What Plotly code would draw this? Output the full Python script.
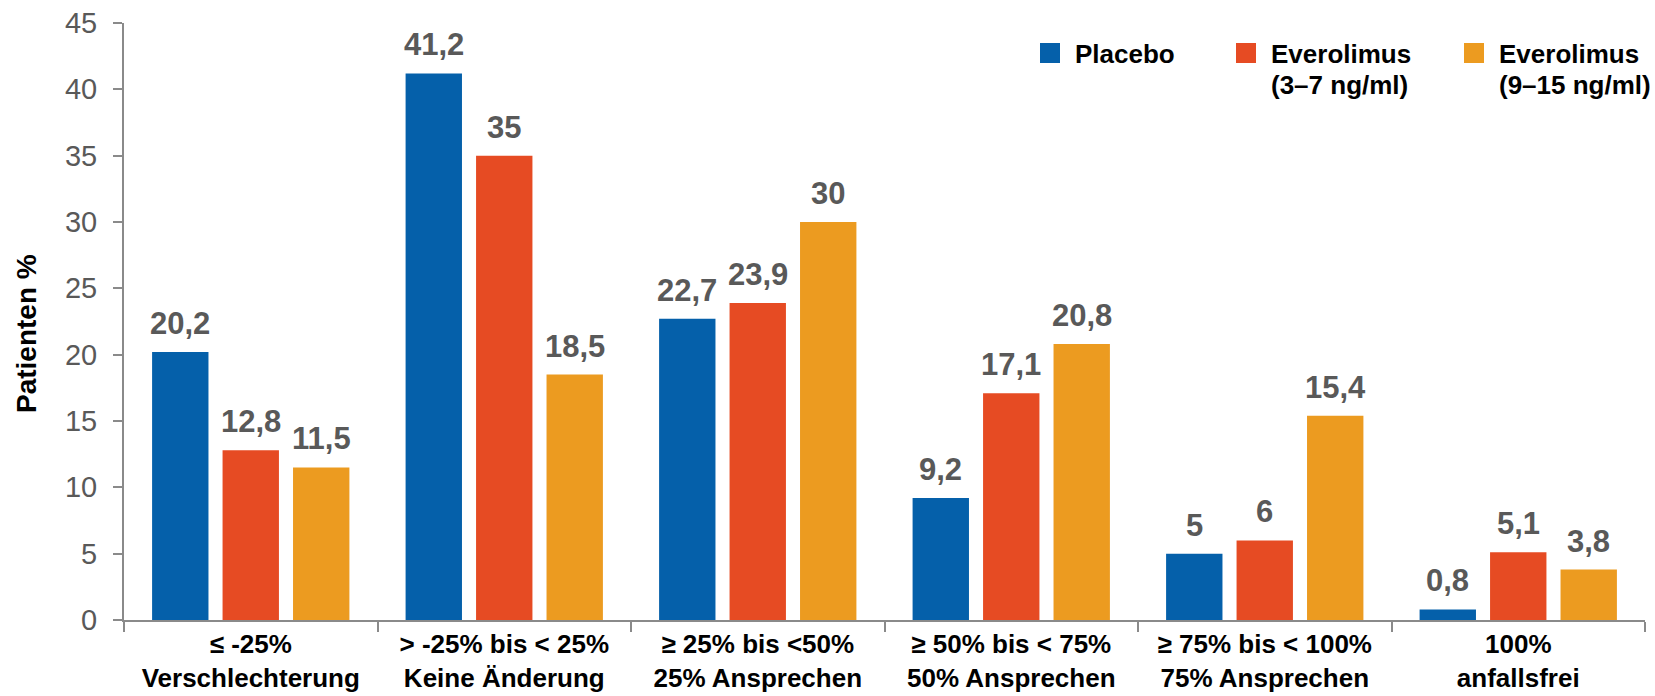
import plotly.graph_objects as go

# Response categories (two-line axis labels)
categories = [
    "≤ -25%<br>Verschlechterung",
    "> -25% bis &lt; 25%<br>Keine Änderung",
    "≥ 25% bis &lt;50%<br>25% Ansprechen",
    "≥ 50% bis &lt; 75%<br>50% Ansprechen",
    "≥ 75% bis &lt; 100%<br>75% Ansprechen",
    "100%<br>anfallsfrei",
]

# Share of patients (%) per treatment arm
placebo = [20.2, 41.2, 22.7, 9.2, 5, 0.8]
everolimus_low = [12.8, 35, 23.9, 17.1, 6, 5.1]
everolimus_high = [11.5, 18.5, 30, 20.8, 15.4, 3.8]

series_names = ["Placebo", "Everolimus<br>(3–7 ng/ml)", "Everolimus<br>(9–15 ng/ml)"]
series_values = [placebo, everolimus_low, everolimus_high]
series_colors = ["#0560AA", "#E64B23", "#EC9B20"]

y_ticks = [0, 5, 10, 15, 20, 25, 30, 35, 40, 45]
y_title = "Patienten %"

FONT = "Liberation Sans, Arial, sans-serif"
W, H = 1655, 696
M_L, M_R, M_T, M_B = 124, 10, 23, 76
PLOT_W = W - M_L - M_R
PLOT_H = H - M_T - M_B
BARGAP = 0.166
N_SERIES = len(series_values)


def fmt(v):
    return f"{v:g}".replace(".", ",")


def px_x(px):
    return (px - M_L) / PLOT_W


def px_y(py):
    return (H - M_B - py) / PLOT_H


fig = go.Figure()
for name, vals, col in zip(series_names, series_values, series_colors):
    fig.add_trace(go.Bar(
        x=categories, y=vals, name=name.replace("<br>", " "),
        marker=dict(color=col, line=dict(width=0)),
        showlegend=False,
    ))

# Value labels above each bar, offset to each bar's slot within the group
slot = (1 - BARGAP) / N_SERIES
annotations = []
for k, vals in enumerate(series_values):
    off = (k - (N_SERIES - 1) / 2) * slot
    for i, v in enumerate(vals):
        annotations.append(dict(
            x=i + off, y=v, xref="x", yref="y",
            text=fmt(v), showarrow=False,
            yanchor="bottom", xanchor="center", yshift=9,
            font=dict(family=FONT, size=31, color="#595959", weight="bold"),
        ))

# Legend: coloured squares with bold labels across the top right
legend_px = [1040, 1236, 1464]
SQ = 20
LINE_STEP = 31
shapes = []
for px, name, col in zip(legend_px, series_names, series_colors):
    shapes.append(dict(type="rect", xref="paper", yref="paper",
                       x0=px_x(px), x1=px_x(px + SQ),
                       y0=px_y(43 + SQ), y1=px_y(43),
                       fillcolor=col, line=dict(width=0)))
    for j, line in enumerate(name.split("<br>")):
        annotations.append(dict(
            x=px_x(px + SQ + 13), y=px_y(37 + j * LINE_STEP),
            xref="paper", yref="paper", text=line, showarrow=False,
            xanchor="left", yanchor="top", align="left",
            font=dict(family=FONT, size=26, color="#000000", weight="bold"),
        ))

# Vertical y-axis title
annotations.append(dict(
    x=px_x(26), y=px_y(334), xref="paper", yref="paper",
    text=y_title, textangle=-90, showarrow=False,
    xanchor="center", yanchor="middle",
    font=dict(family=FONT, size=28, color="#000000", weight="bold"),
))

fig.update_layout(
    width=W, height=H,
    margin=dict(l=M_L, r=M_R, t=M_T, b=M_B, pad=0),
    paper_bgcolor="white", plot_bgcolor="white",
    barmode="group", bargap=BARGAP, bargroupgap=0.2,
    font=dict(family=FONT),
    showlegend=False,
    annotations=annotations,
    shapes=shapes,
    xaxis=dict(
        type="category", automargin=False,
        showline=True, linecolor="#8A8A8A", linewidth=2,
        ticks="outside", tickson="boundaries", ticklen=10, tickwidth=2,
        tickcolor="#8A8A8A",
        tickfont=dict(family=FONT, size=26, color="#000000", weight="bold"),
        ticklabelstandoff=0,
        showgrid=False, zeroline=False,
    ),
    yaxis=dict(
        range=[0, 45], tickvals=y_ticks, automargin=False,
        showline=True, linecolor="#8A8A8A", linewidth=2,
        ticks="outside", ticklen=9, tickwidth=2, tickcolor="#8A8A8A",
        tickfont=dict(family=FONT, size=29, color="#595959"),
        ticklabelstandoff=10,
        showgrid=False, zeroline=False,
    ),
)

fig.write_html("out.html")
